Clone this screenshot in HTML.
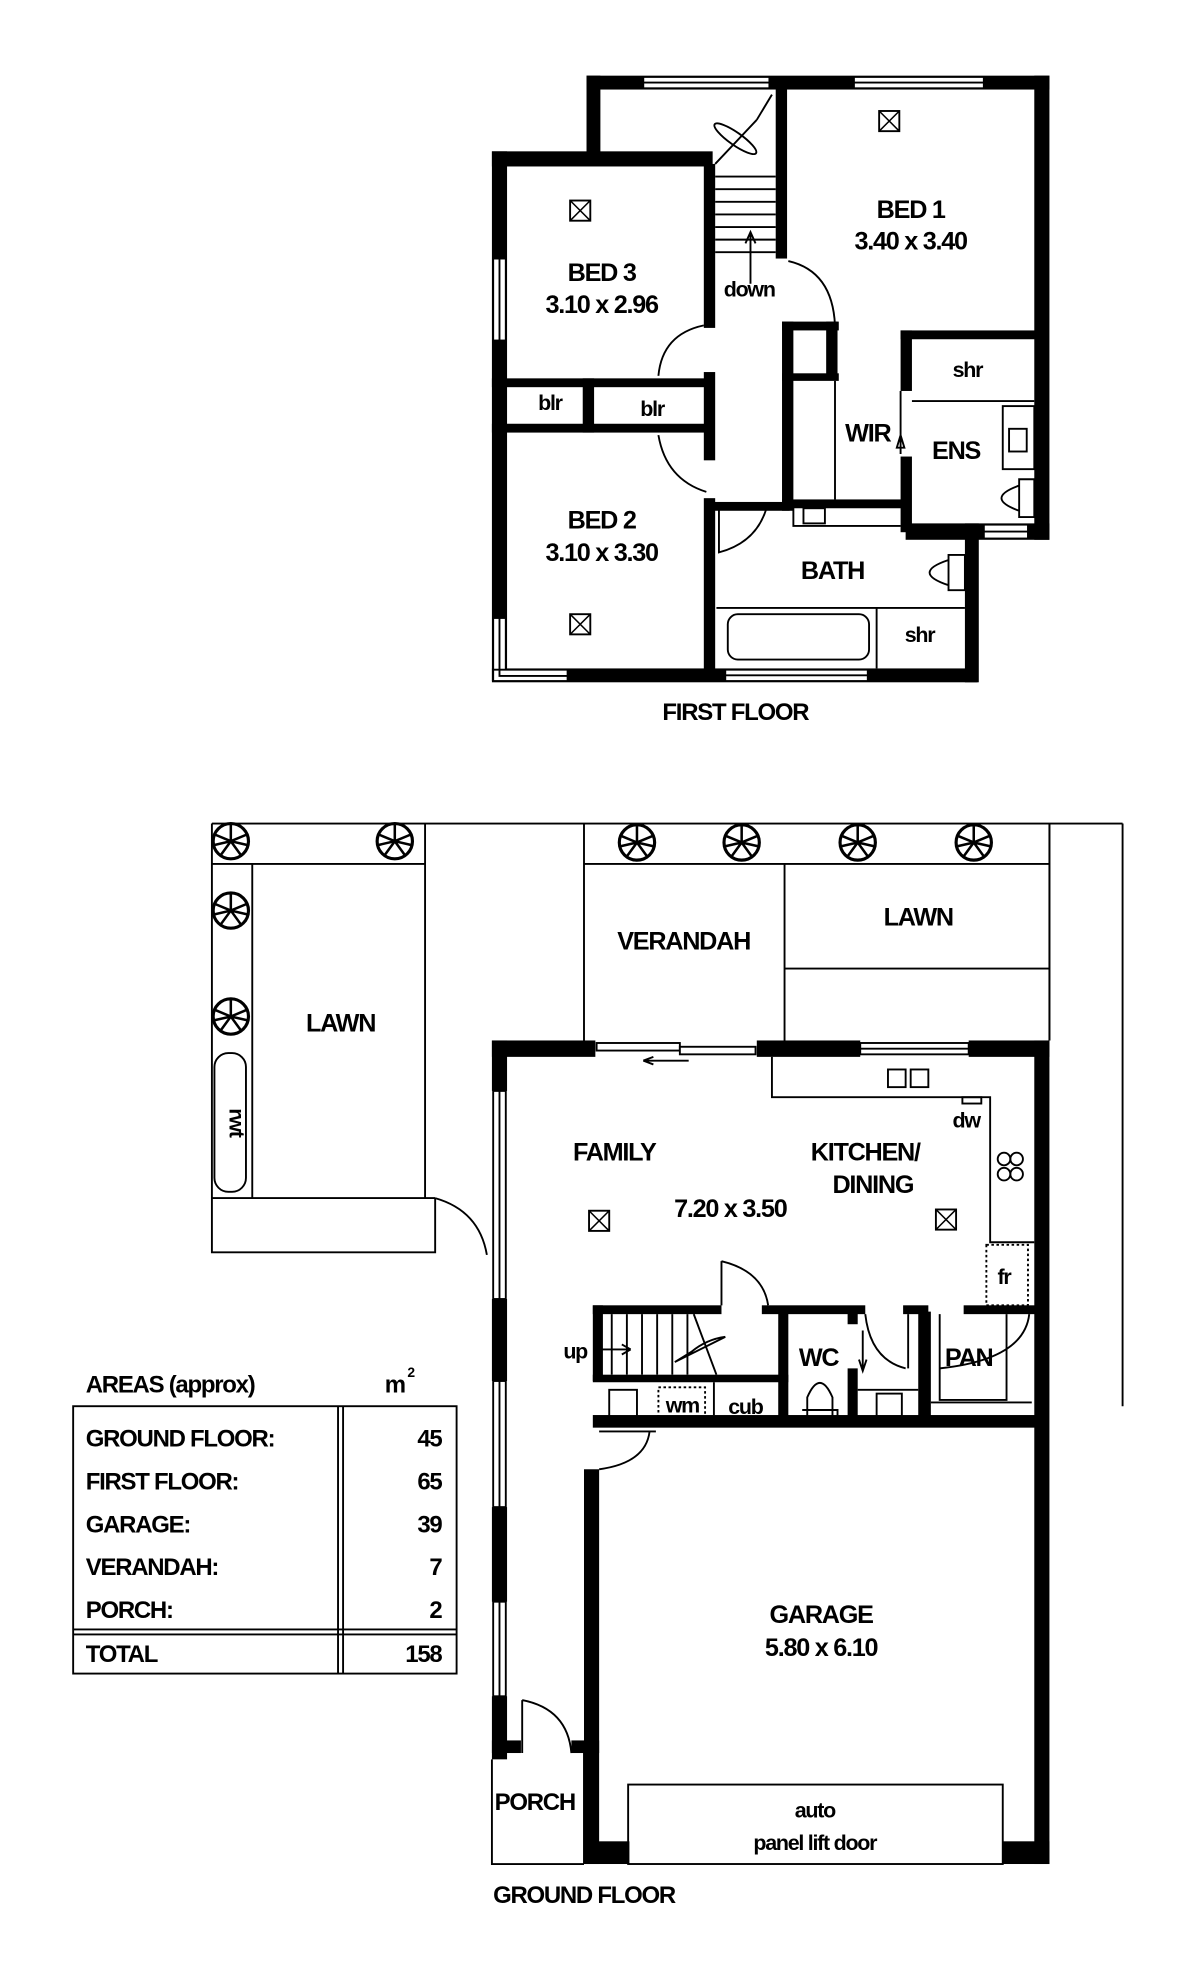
<!DOCTYPE html>
<html><head><meta charset="utf-8"><style>
html,body{margin:0;padding:0;background:#fff}
svg{display:block}
text{font-family:"Liberation Sans",sans-serif;font-weight:bold;fill:#000;letter-spacing:-1px}
</style></head><body>
<svg width="1197" height="1975" viewBox="0 0 949 1566" preserveAspectRatio="none" xmlns="http://www.w3.org/2000/svg">
<defs>
<g id="xb"><rect x="-8" y="-8" width="16" height="16" fill="#fff" stroke="#000" stroke-width="1.5"/><path d="M-8-8L8 8M8-8L-8 8" stroke="#000" stroke-width="1.2"/></g>
<g id="tree"><circle r="14" fill="#fff" stroke="#000" stroke-width="2.5"/><path d="M0-13L0 0M-12-5L0 0M12-5L0 0M-8 11L0 0M8 11L0 0M-13 3L0 0M13 3L0 0" stroke="#000" stroke-width="2"/></g>
</defs>
<g fill="#000">
<!-- first floor walls -->
<rect x="465" y="60" width="367" height="11"/>
<rect x="465" y="60" width="11" height="70"/>
<rect x="390" y="120" width="175" height="12"/>
<rect x="390" y="120" width="12" height="420"/>
<rect x="820" y="60" width="12" height="368"/>
<rect x="390" y="530" width="385" height="11"/>
<rect x="765" y="415" width="11" height="126"/>
<rect x="718" y="415" width="114" height="13"/>
<rect x="558" y="130" width="9" height="130"/>
<rect x="558" y="295" width="9" height="70"/>
<rect x="558" y="395" width="9" height="145"/>
<rect x="615" y="70" width="9" height="135"/>
<rect x="390" y="300" width="175" height="7"/>
<rect x="390" y="336" width="175" height="7"/>
<rect x="462" y="300" width="9" height="43"/>
<rect x="620" y="255" width="9" height="150"/>
<rect x="620" y="255" width="45" height="7"/>
<rect x="655" y="255" width="9" height="45"/>
<rect x="620" y="296" width="45" height="6"/>
<rect x="620" y="396" width="100" height="7"/>
<rect x="714" y="262" width="9" height="48"/>
<rect x="714" y="362" width="9" height="60"/>
<rect x="714" y="262" width="110" height="7"/>
<rect x="566" y="398" width="60" height="7"/>
<!-- ground floor walls -->
<rect x="390" y="825" width="82" height="13"/>
<rect x="600" y="825" width="82" height="13"/>
<rect x="768" y="825" width="64" height="13"/>
<rect x="820" y="825" width="12" height="653"/>
<rect x="390" y="825" width="12" height="40"/>
<rect x="390" y="1030" width="12" height="65"/>
<rect x="390" y="1195" width="12" height="75"/>
<rect x="390" y="1345" width="12" height="50"/>
<rect x="390" y="1380" width="23" height="10"/>
<rect x="453" y="1380" width="22" height="10"/>
<rect x="463" y="1165" width="12" height="313"/>
<rect x="463" y="1460" width="36" height="18"/>
<rect x="795" y="1460" width="37" height="18"/>
<rect x="470" y="1035" width="102" height="7"/>
<rect x="604" y="1035" width="82" height="7"/>
<rect x="716" y="1035" width="20" height="7"/>
<rect x="764" y="1035" width="60" height="7"/>
<rect x="470" y="1122" width="355" height="10"/>
<rect x="470" y="1090" width="155" height="6"/>
<rect x="470" y="1035" width="8" height="60"/>
<rect x="617" y="1040" width="8" height="90"/>
<rect x="672" y="1040" width="8" height="10"/>
<rect x="672" y="1085" width="8" height="45"/>
<rect x="728" y="1040" width="10" height="90"/>
</g>
<g fill="none" stroke="#000" stroke-width="1.5">
<!-- windows first floor -->
<rect x="510" y="61" width="100" height="9" fill="#fff"/>
<rect x="677" y="61" width="103" height="9" fill="#fff"/>
<path d="M510 65.5H610M677 65.5H780"/>
<rect x="391" y="205" width="10" height="65" fill="#fff"/>
<path d="M396 205V270"/>
<rect x="391" y="490" width="10" height="50" fill="#fff"/>
<rect x="391" y="531" width="59" height="9" fill="#fff"/>
<path d="M396 490V536H450"/>
<rect x="575" y="531" width="113" height="9" fill="#fff"/>
<path d="M575 535.5H688"/>
<rect x="780" y="416" width="35" height="11" fill="#fff"/>
<path d="M780 421.5H815"/>
<!-- stairs first floor -->
<path d="M567 140H615M567 150H615M567 160H615M567 170H615M567 180H615M567 190H615M567 200H615"/>
<path d="M567 130L600 95"/>
<ellipse cx="583" cy="110" rx="20" ry="5" transform="rotate(35 583 110)"/>
<path d="M600 95L612 75"/>
<path d="M595 225V185M591 193L595 184L599 193" />
<!-- doors first floor -->
<path d="M625 207Q660 215 662 258"/>
<path d="M558 258Q525 265 522 298"/>
<path d="M522 345Q528 380 560 390"/>
<path d="M570 398V438Q600 430 608 402"/>
<path d="M714 310V360M714 345L711 355L717 355Z"/>
<!-- ens fixtures -->
<path d="M723 318H820"/>
<rect x="795" y="322" width="25" height="50"/><rect x="800" y="340" width="14" height="18"/>
<path d="M808 380H820V410H808ZM808 385Q780 395 808 405"/>
<!-- bath -->
<path d="M629 402V417H714"/><rect x="637" y="403" width="17" height="12"/>
<path d="M568 482H765M695 482V530"/>
<rect x="577" y="487" width="112" height="36" rx="8"/>
<path d="M752 440H765V468H752ZM752 444Q722 454 752 464"/>
<!-- WIR -->
<path d="M662 302V396"/>
<!-- GROUND -->
<path d="M168 653H890M890 653V1115M832 653V825M168 653V993H345V950M345 950H168M200 685H337V950H200ZM337 653V950"/>
<path d="M168 685H200"/>
<rect x="170" y="835" width="25" height="110" rx="11"/>
<path d="M463 653V825M622 685V825M463 685H832M622 768H832M832 653V825"/>
<!-- top windows ground -->
<rect x="473" y="827" width="66" height="6" fill="#fff"/><rect x="539" y="830" width="60" height="6" fill="#fff"/>
<path d="M546 841H510M510 841L518 838M510 841L518 844"/>
<rect x="682" y="827" width="86" height="9" fill="#fff"/><path d="M682 831.5H768"/>
<!-- left windows -->
<rect x="391" y="865" width="10" height="165" fill="#fff"/><path d="M396 865V1030"/>
<rect x="391" y="1095" width="10" height="100" fill="#fff"/><path d="M396 1095V1195"/>
<rect x="391" y="1270" width="10" height="75" fill="#fff"/><path d="M396 1270V1345"/>
<path d="M345 950Q380 960 386 995"/>
<!-- kitchen -->
<path d="M612 838V870H785V985H820"/>
<rect x="704" y="848" width="14" height="14"/><rect x="722" y="848" width="14" height="14"/>
<rect x="763" y="870" width="15" height="5"/>
<circle cx="796" cy="919" r="5"/><circle cx="806" cy="919" r="5"/><circle cx="796" cy="931" r="5"/><circle cx="806" cy="931" r="5"/>
<rect x="782" y="987" width="33" height="48" stroke-dasharray="2 2"/>
<!-- internal door arcs -->
<path d="M572 1000V1035M572 1000Q605 1008 609 1035"/>
<path d="M686 1042Q690 1078 718 1085M720 1042V1085"/>
<path d="M816 1042Q812 1078 745 1085"/>
<path d="M745 1042V1110H798V1042"/>
<!-- stairs ground -->
<path d="M485 1042V1090M497 1042V1090M509 1042V1090M521 1042V1090M533 1042V1090M545 1042V1090"/>
<path d="M550 1042L568 1090"/>
<path d="M535 1080L575 1060Q560 1062 548 1072Z"/>
<path d="M472 1070H500M500 1070L493 1066M500 1070L493 1074"/>
<rect x="483" y="1102" width="22" height="22"/>
<rect x="522" y="1100" width="37" height="25" stroke-dasharray="2 2"/>
<path d="M566 1096V1122"/>
<path d="M475 1135H520M515 1135Q512 1160 475 1165"/>
<!-- wc -->
<path d="M640 1128V1108Q650 1085 660 1108V1128M636 1118H664V1128"/>
<path d="M680 1102H728"/><rect x="695" y="1105" width="20" height="18"/>
<path d="M684 1055V1085M681 1078L684 1087L687 1078"/>
<path d="M738 1112H818"/>
<!-- porch -->
<path d="M390 1395V1478H463M463 1390V1478M414 1348V1390M414 1348Q450 1355 453 1390"/>
<!-- garage door -->
<rect x="498" y="1415" width="297" height="63"/>
<!-- table -->
<rect x="58" y="1115" width="304" height="212"/>
<path d="M268 1115V1327M272 1115V1327M58 1292H362M58 1296H362"/>
</g>
<use href="#xb" x="705" y="96"/><use href="#xb" x="460" y="167"/><use href="#xb" x="460" y="495"/>
<use href="#xb" x="475" y="968"/><use href="#xb" x="750" y="967"/>
<use href="#tree" x="183" y="667"/><use href="#tree" x="313" y="667"/><use href="#tree" x="183" y="722"/><use href="#tree" x="183" y="806"/>
<use href="#tree" x="505" y="668"/><use href="#tree" x="588" y="668"/><use href="#tree" x="680" y="668"/><use href="#tree" x="772" y="668"/>
<g text-anchor="middle" font-size="20">
<text x="722" y="173">BED 1</text><text x="722" y="198">3.40 x 3.40</text>
<text x="477" y="223">BED 3</text><text x="477" y="248">3.10 x 2.96</text>
<text x="477" y="419">BED 2</text><text x="477" y="445">3.10 x 3.30</text>
<text x="660" y="459">BATH</text><text x="758" y="364">ENS</text><text x="688" y="350">WIR</text>
<text x="583" y="571" font-size="19">FIRST FLOOR</text>
<text x="270" y="818">LAWN</text><text x="542" y="753">VERANDAH</text><text x="728" y="734">LAWN</text>
<text x="487" y="920">FAMILY</text><text x="686" y="920">KITCHEN/</text><text x="692" y="946">DINING</text>
<text x="579" y="965">7.20 x 3.50</text>
<text x="649" y="1083">WC</text><text x="768" y="1083">PAN</text>
<text x="651" y="1287">GARAGE</text><text x="651" y="1313">5.80 x 6.10</text>
<text x="424" y="1435" font-size="19">PORCH</text>
<text x="463" y="1509" font-size="19">GROUND FLOOR</text>
</g>
<g text-anchor="middle" font-size="17">
<text x="594" y="235">down</text><text x="767" y="299">shr</text><text x="729" y="509">shr</text>
<text x="436" y="325">blr</text><text x="517" y="330">blr</text>
<text x="766" y="894">dw</text><text x="796" y="1018">fr</text>
<text x="541" y="1120">wm</text><text x="591" y="1121">cub</text>
<text x="456" y="1077">up</text>
<text x="646" y="1441">auto</text><text x="646" y="1467">panel lift door</text>
<text x="182" y="890" transform="rotate(90 182 890)">rwt</text>
</g>
<g font-size="19">
<text x="68" y="1104">AREAS (approx)</text><text x="305" y="1104">m</text><text x="323" y="1092" font-size="11">2</text>
<text x="68" y="1147">GROUND FLOOR:</text><text x="68" y="1181">FIRST FLOOR:</text><text x="68" y="1215">GARAGE:</text><text x="68" y="1249">VERANDAH:</text><text x="68" y="1283">PORCH:</text><text x="68" y="1318">TOTAL</text>
</g>
<g font-size="19" text-anchor="end">
<text x="350" y="1147">45</text><text x="350" y="1181">65</text><text x="350" y="1215">39</text><text x="350" y="1249">7</text><text x="350" y="1283">2</text><text x="350" y="1318">158</text>
</g>
</svg>
</body></html>
